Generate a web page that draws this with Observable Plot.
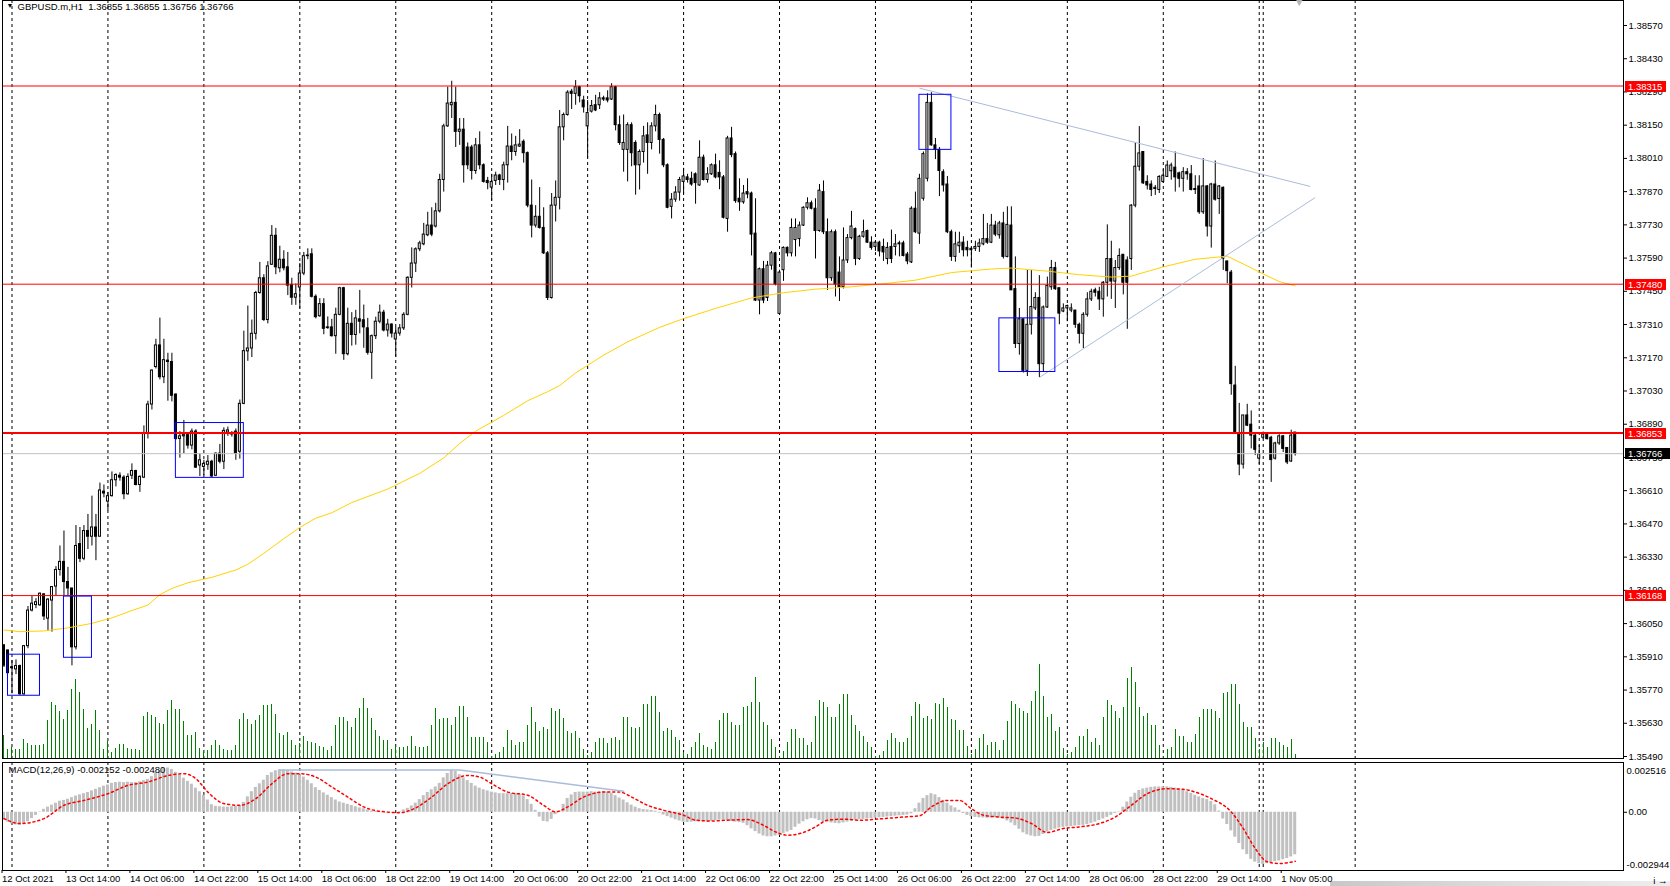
<!DOCTYPE html>
<html><head><meta charset="utf-8">
<script src="https://cdn.jsdelivr.net/npm/d3@7"></script>
<script src="https://cdn.jsdelivr.net/npm/@observablehq/plot@0.6"></script>
<style>
body{margin:0;background:#fff;}
#wrap{position:relative;width:1670px;height:886px;overflow:hidden;background:#fff;}
#wrap svg{position:absolute;left:0;}
#band{position:absolute;left:1330px;top:881px;width:340px;height:5px;background:linear-gradient(to right,#c8c8c8,#dcdcdc 50%,#eeeeee);}
</style></head><body><div id="wrap"><div id="band"></div></div>
<script>
// ---------- DATA (prices in points = 1e-5) ----------
const symbol = "GBPUSD.m,H1";
const open = [135958,135937,135866,135857,135871,135752,135955,136105,136128,136127,
136173,136071,136147,136206,136276,136310,136225,136198,135950,136385,
136323,136440,136416,136455,136416,136606,136564,136587,136654,136673,
136665,136595,136673,136693,136634,136665,136852,136973,137131,137222,
137088,137158,137152,137015,136828,136839,136844,136800,136859,136716,
136710,136719,136732,136673,136766,136732,136855,136850,136859,136774,
136976,137197,137209,137271,137443,137505,137329,137562,137684,137547,
137583,137551,137477,137423,137466,137525,137598,137606,137427,137345,
137396,137298,137298,137261,137351,137463,137185,137313,137266,137332,
137328,137294,137191,137261,137322,137360,137285,137310,137247,137272,
137294,137351,137507,137567,137627,137648,137686,137727,137723,137787,
137919,138145,138234,138244,138122,138131,138056,138056,137957,138065,
137981,137915,137887,137915,137938,137919,137981,138060,138037,138060,
138080,138032,137811,137727,137764,137717,137610,137422,137811,137844,
138141,138193,138291,138282,138310,138254,138145,138207,138234,138234,
138263,138263,138258,138310,138150,138046,138046,138150,138075,137981,
138037,138107,138075,138145,138193,138088,137981,137806,137836,137866,
137911,137930,137924,137943,137896,138013,137919,137943,137981,137949,
137930,137755,138094,138028,137840,137825,137868,137862,137693,137411,
137543,137422,137558,137610,137355,137539,137633,137610,137666,137670,
137727,137802,137821,137798,137704,137868,137699,137505,137699,137529,
137468,137580,137674,137712,137586,137680,137704,137655,137637,137655,
137637,137586,137637,137637,137652,137652,137605,137572,137798,137693,
137840,137924,138244,138065,138046,137952,137900,137699,137595,137640,
137655,137633,137629,137629,137637,137648,137670,137655,137727,137686,
137736,137595,137727,137459,137228,137332,137115,137309,137378,137422,
137143,137382,137467,137548,137463,137365,137378,137369,137369,137309,
137271,137351,137416,137454,137448,137416,137486,137586,137491,137548,
137604,137580,137586,137811,137975,138037,137911,137900,137881,137877,
137911,137932,137956,137971,137947,137924,137952,137943,137881,137892,
137783,137892,137723,137900,137839,137886,137576,137529,137053,136852,
136720,136927,136888,136842,136745,136833,136846,136833,136745,136809,
136839,136790,136733,136855];
const high = [135962,135937,135894,135897,135875,135958,136122,136164,136155,136179,
136176,136155,136206,136290,136377,136440,136287,136198,136463,136455,
136463,136510,136587,136510,136642,136634,136603,136689,136681,136685,
136673,136681,136723,136696,136673,136883,136987,137119,137248,137337,
137248,137189,137189,137018,136859,136906,136852,136870,136867,136766,
136738,136758,136738,136769,136805,136875,136878,136859,136870,136992,
137282,137388,137329,137450,137572,137520,137575,137727,137715,137640,
137621,137614,137505,137481,137567,137614,137629,137629,137435,137419,
137419,137342,137332,137379,137467,137467,137379,137360,137370,137454,
137392,137336,137266,137341,137392,137370,137332,137313,137298,137310,
137360,137511,137633,137633,137661,137736,137783,137802,137821,137943,
138154,138310,138335,138310,138178,138178,138075,138065,138094,138122,
137987,137930,137943,137952,137943,137994,138145,138113,138103,138131,
138088,138037,137919,137811,137887,137802,137618,137862,137915,138212,
138201,138295,138301,138338,138314,138272,138254,138254,138276,138287,
138272,138295,138325,138314,138188,138193,138160,138160,138084,138046,
138145,138160,138160,138234,138201,138094,137987,137862,137891,137930,
137968,137943,137952,137949,138084,138024,137971,137987,138028,138000,
137938,138103,138141,138037,137924,137896,137924,137868,137840,137548,
137576,137576,137618,137614,137539,137637,137637,137755,137755,137742,
137806,137844,137830,137840,137900,137915,137755,137708,137708,137595,
137717,137689,137787,137717,137686,137750,137708,137680,137661,137661,
137670,137655,137708,137689,137661,137661,137614,137806,137868,137943,
138037,138282,138287,138094,138056,137962,137934,137708,137699,137699,
137680,137661,137633,137661,137670,137774,137736,137774,137745,137745,
137783,137806,137806,137595,137378,137332,137538,137538,137444,137516,
137388,137510,137580,137572,137463,137397,137392,137397,137369,137316,
137360,137444,137459,137463,137467,137491,137730,137661,137580,137629,
137604,137595,137815,138075,138144,138037,137937,137915,137896,137937,
137962,137999,137990,138037,137952,137971,137967,137980,137937,137937,
138009,137896,137905,137999,137896,137890,137576,137538,137134,136978,
136927,136974,136946,136852,136801,136857,136852,136839,136814,136846,
136842,136790,136865,136855];
const low = [135865,135841,135754,135835,135748,135748,135944,136099,136113,136123,
136063,136021,136014,136167,136250,136167,136167,135872,135939,136307,
136315,136362,136377,136315,136416,136580,136525,136583,136626,136650,
136572,136591,136657,136630,136603,136661,136828,136950,137123,137077,
137061,136987,136984,136823,136747,136766,136785,136782,136704,136670,
136673,136696,136665,136670,136723,136699,136839,136836,136738,136743,
136972,137155,137171,137245,137438,137323,137313,137559,137520,137528,
137536,137432,137391,137391,137376,137516,137583,137422,137334,137341,
137267,137290,137257,137185,137347,137159,137178,137219,137223,137271,
137210,137181,137079,137247,137313,137279,137257,137253,137172,137261,
137285,137347,137464,137529,137617,137642,137680,137680,137717,137780,
137868,138141,138178,138056,138065,137906,137962,137919,137943,137962,
137906,137878,137830,137896,137896,137874,137906,138000,138019,138056,
137990,137802,137675,137717,137712,137605,137411,137417,137742,137793,
138084,138188,138216,138234,138244,138201,138009,138201,138207,138216,
138250,138244,138254,138126,138065,137952,137911,137975,137855,137877,
137990,137943,138046,138122,138028,137971,137798,137755,137825,137830,
137858,137906,137893,137817,137893,137915,137906,137938,137924,137878,
137755,137699,138013,137821,137787,137817,137840,137599,137407,137351,
137398,137407,137539,137473,137351,137492,137595,137595,137595,137637,
137723,137793,137793,137586,137699,137689,137454,137492,137426,137407,
137460,137567,137667,137558,137580,137674,137652,137623,137618,137595,
137576,137562,137567,137599,137595,137595,137562,137567,137693,137648,
137830,137911,138061,138005,137849,137868,137693,137576,137573,137610,
137595,137595,137548,137618,137614,137642,137648,137651,137680,137670,
137586,137591,137454,137209,137181,137106,137091,137266,137369,137087,
137110,137378,137454,137454,137309,137360,137322,137360,137294,137228,
137209,137341,137407,137426,137369,137341,137426,137416,137378,137538,
137435,137290,137538,137802,137956,137900,137877,137849,137854,137862,
137905,137930,137918,137868,137886,137868,137918,137873,137858,137774,
137774,137679,137632,137830,137774,137538,137482,137012,136852,136673,
136701,136880,136786,136758,136720,136827,136824,136645,136739,136801,
136771,136720,136729,136756];
const close = [135873,135841,135862,135871,135752,135955,136105,136134,136140,136176,
136080,136151,136204,136276,136310,136225,136198,135950,136377,136323,
136440,136416,136455,136416,136611,136598,136587,136654,136676,136665,
136595,136668,136693,136634,136668,136852,136973,137116,137222,137088,
137160,137152,137010,136828,136839,136844,136800,136859,136707,136738,
136723,136732,136670,136766,136732,136862,136864,136847,136766,136976,
137198,137209,137271,137443,137505,137329,137555,137684,137551,137583,
137547,137474,137423,137438,137525,137598,137601,137427,137341,137396,
137292,137295,137261,137351,137463,137185,137313,137266,137336,137322,
137298,137191,137261,137322,137360,137285,137310,137272,137272,137294,
137351,137507,137567,137627,137652,137689,137727,137689,137787,137919,
138145,138241,138244,138122,138131,137981,137981,137957,138065,137981,
137911,137906,137911,137938,137919,137981,138060,138037,138065,138068,
138032,137811,137727,137764,137717,137610,137422,137811,137844,138141,
138193,138287,138282,138310,138272,138225,138201,138231,138212,138263,
138258,138254,138310,138150,138075,138075,138150,138032,137981,138037,
138103,138075,138145,138193,138088,137981,137802,137836,137866,137919,
137934,137919,137900,137906,138013,137919,137943,137981,137930,137930,
137760,138094,138024,137830,137825,137862,137858,137689,137411,137543,
137411,137558,137610,137479,137529,137633,137610,137717,137717,137727,
137802,137821,137798,137704,137874,137699,137505,137699,137479,137468,
137580,137674,137723,137586,137680,137699,137655,137633,137655,137618,
137614,137633,137586,137648,137648,137599,137576,137798,137699,137924,
138028,138244,138065,138046,137957,137896,137699,137595,137648,137655,
137623,137623,137623,137637,137652,137670,137655,137727,137689,137736,
137595,137730,137454,137228,137332,137115,137309,137384,137422,137143,
137382,137473,137548,137459,137356,137378,137388,137378,137309,137271,
137351,137416,137448,137444,137416,137486,137586,137491,137548,137599,
137486,137486,137811,137975,138031,137905,137896,137877,137886,137932,
137937,137980,137980,137930,137924,137952,137943,137877,137877,137783,
137892,137723,137900,137836,137892,137586,137535,137059,136852,136720,
136927,136884,136842,136782,136763,136846,136827,136739,136809,136839,
136786,136729,136842,136766];
// tick volume (arbitrary units)
const volume = [23,9,11,9,9,19,15,13,13,13,14,38,56,53,47,39,48,69,79,66,49,30,34,48,28,9,17,6,10,14,
14,10,9,9,8,42,46,43,41,35,34,48,58,49,49,37,23,23,26,10,6,8,13,18,13,9,8,8,13,39,
45,39,34,38,43,53,53,54,44,25,23,26,18,13,15,22,17,16,15,12,
11,8,12.5,33,41.5,41.5,37,31,40,50,60,50,40,28,22,18,18,9,12,11,11,12,22,12,11,11,12,33,50,39,
40,40,33,41.5,52,52,41.5,21,21,21,21,16,2,4,6,11,28,18,13,16,16,33,51,36,27,31,29,50,47,49,
40,27,25,27,20,9,3,6,16,20,20,15,20,21,18,41.5,41.5,31,30,31,54,54,62,62,46,
27,30,28,21,18,6,4.5,11,16,25,13,11,9,16,38,45,45,36,33,33,51,52,56,81,56,36,33,19,11,2,
7.5,16,29,29,20,20,13,16,42,58,56,51,41,41,54,64,64,43,33,27,22,16,11,2,3,7,18,25,20,16,
16,20,42,56,54,40,42,39,55,54,60,51,39,38,28,28,12,4.5,9,20,24,13,
16.5,15.6,7.6,18,37,57,54,50,47,45,57,67,94,62.5,41.5,44,27,31,10,4.5,6,11,22,22,29,16,20,13,41.5,58,
53,47,40,51,80,91.5,76,51,42,45,33,33,13,2,9,11,29,22,22,16.5,15.6,24.5,41.5,49,49,49,47,40,65,66,
74,74,54,36,31,31,20,9,16,11,20,20,16,13,11,19,4.5];
// moving average (points) read at selected bars
const maBars = [0,4,10,16,22,27,32,36,39,42,46,52,58,61,65,70,74,78,82,87,96,104,110,114,118,125,131,136,139,143,150,156,164,170,178,187,195,203,212,220,228,237,247,252,261,269,277,282,290,298,306,311,315,319,323];
const maValues = [136023,136016,136019,136032,136051,136074,136105,136128,136172,136198,136222,136245,136276,136300,136346,136408,136455,136494,136517,136560,136617,136683,136748,136809,136861,136927,136989,137027,137053,137106,137181,137237,137298,137335,137378,137422,137444,137459,137469,137482,137497,137529,137544,137548,137535,137520,137510,137514,137553,137585,137598,137557,137523,137491,137473];
// MACD main (histogram), units of 1e-4
const macdHist = [-4.0,-5.0,-5.8,-6.4,-6.6,-6.0,-4.8,-3.2,-1.6,0.2,
1.5,2.6,3.6,4.6,5.6,6.0,6.6,7.4,8.2,8.8,
9.4,10.0,10.8,11.6,12.4,13.2,13.8,14.6,15.0,15.2,
15.0,15.2,15.0,15.0,15.4,16.0,16.6,18.0,20.0,21.0,
22.0,22.4,21.6,20.2,18.8,17.2,15.6,14.2,12.2,10.4,
8.6,6.2,3.8,3.0,2.8,2.6,2.6,2.8,3.0,3.4,
5.0,7.8,10.4,12.6,14.4,16.2,18.6,20.0,21.0,21.5,
21.4,21.0,20.4,19.8,18.8,17.8,16.2,14.4,12.4,11.0,
9.8,8.6,7.4,6.2,5.2,4.6,4.0,3.4,2.8,2.2,
1.8,1.2,0.6,0.4,0.2,0.0,-0.2,-0.2,0.0,0.4,
1.2,2.0,3.2,4.6,6.4,8.4,10.0,11.4,12.8,14.6,
17.4,19.6,21.2,20.6,19.0,17.4,16.0,14.6,13.2,12.2,
11.4,10.8,10.2,9.8,9.4,9.4,9.4,9.4,9.4,9.2,
8.2,6.4,4.0,1.0,-2.4,-4.6,-4.9,-3.6,-1.2,0.6,
4.0,7.0,8.8,10.0,10.2,10.2,10.2,10.4,10.2,10.2,
10.4,10.2,9.6,8.4,7.2,6.2,4.8,3.6,2.6,1.8,
1.4,1.2,1.0,0.6,-0.4,-1.4,-2.2,-3.0,-3.8,-4.4,
-5.0,-5.2,-5.0,-4.8,-4.8,-4.9,-5.0,-4.6,-4.2,-4.0,
-4.0,-4.2,-4.6,-5.0,-5.2,-5.6,-6.8,-8.4,-9.8,-11.0,
-12.0,-12.4,-12.4,-12.0,-11.6,-10.8,-10.0,-9.2,-7.6,-6.0,
-4.8,-3.8,-3.2,-3.4,-4.2,-4.8,-5.0,-5.4,-5.6,-5.8,
-5.4,-5.0,-4.4,-4.0,-3.8,-3.6,-3.4,-3.2,-3.0,-2.8,
-2.6,-2.4,-2.2,-2.0,-1.8,-1.6,-1.4,-0.8,1.8,4.6,
7.0,8.4,9.4,8.8,7.4,6.0,4.6,3.2,2.2,1.0,
-0.6,-1.6,-2.2,-2.6,-2.8,-2.9,-3.0,-2.9,-2.8,-2.9,
-3.6,-4.4,-5.4,-6.8,-8.6,-10.4,-11.4,-12.0,-12.4,-12.2,
-11.2,-10.0,-9.2,-8.6,-8.0,-7.6,-7.4,-7.2,-7.0,-6.8,
-6.6,-6.2,-5.6,-5.0,-4.2,-3.4,-2.6,-1.6,-0.6,0.2,
2.6,5.2,7.6,9.6,11.0,11.8,12.2,12.6,12.8,12.8,
12.8,12.8,12.6,12.2,11.8,11.2,10.4,9.6,8.6,7.8,
7.0,6.4,5.4,3.8,0.6,-3.4,-6.2,-9.4,-12.6,-15.8,
-19.0,-21.4,-23.8,-25.2,-26.0,-26.4,-26.0,-25.4,-25.0,-24.6,
-24.0,-23.4,-22.6,-21.5];
// MACD signal, units of 1e-4, read at selected bars
const sigBars = [0,4,10,15,20,26,31,36,41,45,48,51,55,59,63,67,71,74,78,82,86,90,94,99,103,107,111,116,119,122,126,131,135,138,141,145,150,154,157,161,165,170,173,177,181,186,190,193,196,200,203,206,210,214,220,225,229,232,236,239,242,245,249,253,257,261,265,269,274,278,282,286,291,295,298,302,307,310,313,316,319,323];
const sigValues = [-3.2,-5.7,-3.2,3.5,6.0,9.4,13.6,15.3,18.6,19.5,17.0,10.2,4.4,3.5,6.9,14.4,19.5,19.5,17.8,12.8,7.7,2.7,0.5,-0.2,2.2,7.7,14.4,18.6,17.8,14.4,10.2,8.6,3.5,0.2,2.7,7.7,10.2,10.2,7.7,3.5,1.0,-1.5,-4.0,-4.4,-4.0,-3.7,-6.6,-9.9,-11.6,-10.2,-7.4,-4.0,-3.5,-4.0,-3.2,-2.4,-1.8,2.7,6.0,6.0,1.8,-1.5,-2.4,-2.9,-5.7,-10.2,-8.2,-7.4,-5.7,-2.4,3.5,9.4,11.9,11.6,10.2,6.9,0.2,-8.2,-18.3,-25.0,-25.9,-24.8];
const macdLast = [-0.002152, -0.002480];
const macdRange = [-0.002944, 0.002516];
// horizontal levels and objects
const levels = [1.38315, 1.37480, 1.36853, 1.36168];
const bidPrice = 1.36766;
const priceTicks = [1.38570,1.38430,1.38290,1.38150,1.38010,1.37870,1.37730,1.37590,1.37450,1.37310,1.37170,1.37030,1.36890,1.36750,1.36610,1.36470,1.36330,1.36190,1.36050,1.35910,1.35770,1.35630,1.35490];
const trendLines = [
  {b1:229, p1:1.38306, b2:326.75, p2:1.37892},
  {b1:259, p1:1.37087, b2:328, p2:1.37845}];
const boxes = [
  {b1:1, b2:9, p1:1.35919, p2:1.35746},
  {b1:15, b2:22, p1:1.36164, p2:1.35906},
  {b1:43, b2:60, p1:1.36895, p2:1.36664},
  {b1:229, b2:237, p1:1.38278, p2:1.38046},
  {b1:249, b2:263, p1:1.37336, p2:1.37110}];
const macdTrendBars = [69, 114, 155];
const macdTrendVals = [21.4, 21.4, 10.6];
const gridBars = [2,26,50,74,98,122,146,170,194,218,242,266,290,314,315,338];
const labelBars = [0,16,32,48,64,80,96,112,128,144,160,176,192,208,224,240,256,272,288,304,320];
const timeLabels = ["12 Oct 2021","13 Oct 14:00","14 Oct 06:00","14 Oct 22:00","15 Oct 14:00","18 Oct 06:00","18 Oct 22:00","19 Oct 14:00","20 Oct 06:00","20 Oct 22:00","21 Oct 14:00","22 Oct 06:00","22 Oct 22:00","25 Oct 14:00","26 Oct 06:00","26 Oct 22:00","27 Oct 14:00","28 Oct 06:00","28 Oct 22:00","29 Oct 14:00","1 Nov 05:00"];

// ---------- BUILD ----------
const bars = open.map((o, i) => ({i, o: o/1e5, h: high[i]/1e5, l: low[i]/1e5, c: close[i]/1e5, v: volume[i], m: macdHist[i]/1e4}));
const maPts = maBars.map((b, k) => ({i: b, p: maValues[k]/1e5}));
const sigPts = sigBars.map((b, k) => ({i: b, s: sigValues[k]/1e4}));
const macdTrend = macdTrendBars.map((b, k) => ({i: b, v: macdTrendVals[k]/1e4}));
const f5 = d3.format(".5f");
const FONT = {fontFamily: "'Liberation Sans', Arial, sans-serif", fontSize: "9.5px", color: "#000", background: "transparent", overflow: "visible"};
const W = 1670, XD = [-0.375, 405.125], YD = [1.354816, 1.386753];
const wrap = document.getElementById("wrap");
const last = bars[bars.length - 1];

const volChart = Plot.plot({
  width: W, height: 759, marginLeft: 2, marginRight: 47, marginTop: 0, marginBottom: 1, style: FONT,
  x: {domain: XD, axis: null}, y: {domain: [0, d3.max(volume) / 0.124], axis: null},
  marks: [
    Plot.ruleX(gridBars, {stroke: "#000", strokeDasharray: "3,3"}),
    Plot.ruleX(bars, {x: "i", y1: 0, y2: "v", stroke: "#008000", shapeRendering: "crispEdges"})
  ]
});
volChart.style.top = "0px"; wrap.appendChild(volChart);

const header = `${symbol}\u00a0\u00a0${[last.o, last.h, last.l, last.c].map(f5).join(" ")}`;
const priceChart = Plot.plot({
  width: W, height: 759, marginLeft: 2, marginRight: 47, marginTop: 0, marginBottom: 1, style: FONT,
  x: {domain: XD, axis: null}, y: {domain: YD, axis: null},
  marks: [
    Plot.ruleX(bars, {x: "i", y1: "l", y2: "h", stroke: "#000"}),
    Plot.rect(bars, {x1: d => d.i - 0.25, x2: d => d.i + 0.25, y1: "o", y2: "c",
      fill: d => d.c >= d.o ? "#fff" : "#000", stroke: "#000", strokeWidth: 1}),
    Plot.ruleY([bidPrice], {stroke: "#c0c0c0"}),
    Plot.line(maPts, {x: "i", y: "p", stroke: "#ffd200", strokeWidth: 1}),
    Plot.ruleY(levels, {stroke: "#ff0000", strokeWidth: d => d === 1.36853 ? 2 : 1}),
    Plot.link(trendLines, {x1: "b1", y1: "p1", x2: "b2", y2: "p2", stroke: "#a9bcd9"}),
    Plot.rect(boxes, {x1: "b1", x2: "b2", y1: "p1", y2: "p2", fill: "none", stroke: "#0000ff"}),
    Plot.frame({stroke: "#000"}),
    Plot.axisY(priceTicks, {anchor: "right", tickSize: 3, tickPadding: 2, tickFormat: f5}),
    Plot.text(["\u25BC"], {frameAnchor: "top-left", dx: 4, dy: 3, lineAnchor: "top", textAnchor: "start", fontSize: 7}),
    Plot.text([header], {frameAnchor: "top-left", dx: 15, dy: 3, lineAnchor: "top", textAnchor: "start"}),
    Plot.text([last.i + 1], {x: d => d, text: () => "\u25BC", frameAnchor: "top", lineAnchor: "top", dy: -4, fill: "#b4b4b4", fontSize: 13})
  ]
});
priceChart.style.top = "0px"; wrap.appendChild(priceChart);

// price label boxes on the right axis
const ys = priceChart.scale("y");
const svgB = d3.select(priceChart);
const labs = levels.map(p => ({p, fill: "#ff0000"})).concat([{p: bidPrice, fill: "#000"}]);
for (const L of labs) {
  const y = Math.round(ys.apply(L.p));
  svgB.append("rect").attr("x", 1625).attr("y", y - 5).attr("width", L.fill === "#000" ? 45 : 41).attr("height", 11).attr("fill", L.fill);
  svgB.append("text").attr("x", 1628).attr("y", y + 0.5).attr("dy", "0.35em").attr("fill", "#fff")
    .attr("text-anchor", "start").attr("font-size", "9.5px").text(f5(L.p));
}

const macdLegend = `MACD(12,26,9) ${macdLast[0].toFixed(6)} ${macdLast[1].toFixed(6)}`;
const macdChart = Plot.plot({
  width: W, height: 127, marginLeft: 2, marginRight: 47, marginTop: 3, marginBottom: 16, style: FONT,
  x: {domain: XD, axis: null}, y: {domain: macdRange, axis: null},
  marks: [
    Plot.ruleX(gridBars, {stroke: "#000", strokeDasharray: "3,3"}),
    Plot.rect(bars, {x1: d => d.i - 0.375, x2: d => d.i + 0.375, y1: 0, y2: "m", fill: "#c0c0c0"}),
    Plot.line(sigPts, {x: "i", y: "s", stroke: "#ff0000", strokeDasharray: "2,3", curve: "monotone-x"}),
    Plot.line(macdTrend, {x: "i", y: "v", stroke: "#a9bcd9"}),
    Plot.frame({stroke: "#000"}),
    Plot.axisX(labelBars, {anchor: "bottom", tickSize: 3, tickPadding: 2, textAnchor: "start", dx: -2,
      tickFormat: d => timeLabels[labelBars.indexOf(d)]}),
    Plot.axisY([0], {anchor: "right", tickSize: 3, tickPadding: 2, tickFormat: () => "0.00"}),
    Plot.text([macdRange[1]], {y: d => d, text: d => d.toFixed(6), frameAnchor: "right", dx: 3, dy: 8, textAnchor: "start"}),
    Plot.text([macdRange[0]], {y: d => d, text: d => d.toFixed(6), frameAnchor: "right", dx: 3, dy: -6, textAnchor: "start"}),
    Plot.text([macdLegend], {frameAnchor: "top-left", dx: 6, dy: 4, lineAnchor: "top", textAnchor: "start"})
  ]
});
macdChart.style.top = "759px"; wrap.appendChild(macdChart);
</script></body></html>
